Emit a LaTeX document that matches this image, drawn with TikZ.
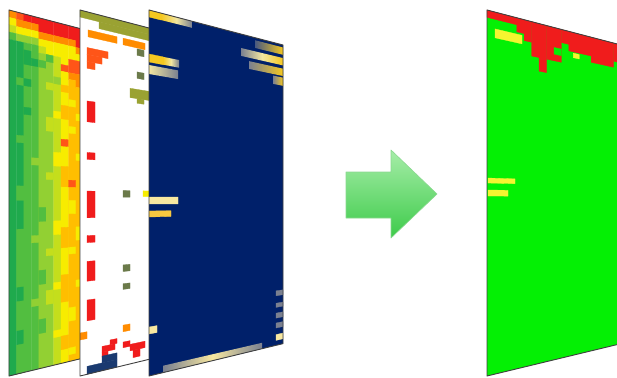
\documentclass[tikz,border=0pt]{standalone}
\definecolor{DG}{HTML}{1FAA4D}
\definecolor{MG}{HTML}{52BE40}
\definecolor{LG}{HTML}{92D033}
\definecolor{YG}{HTML}{C4DE1C}
\definecolor{YE}{HTML}{F7EC00}
\definecolor{OG}{HTML}{FFBE00}
\definecolor{OR}{HTML}{FF8C00}
\definecolor{RO}{HTML}{FF5518}
\definecolor{RD}{HTML}{F01C1C}
\definecolor{OL}{HTML}{9AA232}
\definecolor{DO}{HTML}{6B7A4A}
\definecolor{NV}{HTML}{00206A}
\definecolor{NAVB}{HTML}{1A3A70}
\definecolor{PGR}{HTML}{04F004}
\definecolor{PYE}{HTML}{F5F530}
\definecolor{BARA}{HTML}{F5C820}
\definecolor{BARB}{HTML}{F8C840}
\definecolor{PALE}{HTML}{F2E6A0}
\definecolor{PALEB}{HTML}{F8E8A0}
\definecolor{GRB}{HTML}{7A8090}
\definecolor{ARA}{HTML}{A6EDA8}
\definecolor{ARB}{HTML}{3DCB4A}
\definecolor{ARC}{HTML}{8AD890}
\tikzset{
  pline/.style={draw=black!75, line width=0.9pt, line join=round},
  cellfill/.style={fill=#1, draw=#1, line width=0.3pt}
}
% bilinear map of a panel: a = px from left edge, b = px down the left edge
\newcommand\pmap[2]{({\pX+(#1)},{10+(#1)*0.2612+(#2)*(1-(#1)*0.001366)})}
\newcommand\pcell[5]{\path[cellfill=#5] \pmap{#1}{#2} -- \pmap{#3}{#2} -- \pmap{#3}{#4} -- \pmap{#1}{#4} -- cycle;}
\newcommand\gcell[5]{\pcell{(#1)*7.444}{(#2)*7.32}{(#3)*7.444}{(#4)*7.32}{#5}}
\newcommand\pshade[5]{\shade[#5] \pmap{#1}{#2} -- \pmap{#3}{#2} -- \pmap{#3}{#4} -- \pmap{#1}{#4} -- cycle;}
\newcommand\pframe[1]{\path[#1] \pmap{0}{0} -- \pmap{134}{0} -- \pmap{134}{366} -- \pmap{0}{366} -- cycle;}
\begin{document}
\begin{tikzpicture}[x=1pt,y=-1pt]
\useasboundingbox (0,0) rectangle (617,377);
% ---------------- panel 1 : heat map ----------------
\def\pX{9}
\gcell{0}{0}{1}{1}{OR}\gcell{0}{1}{1}{2}{YE}\gcell{0}{2}{1}{3}{YG}\gcell{0}{3}{1}{4}{MG}\gcell{0}{4}{1}{50}{DG}
\gcell{1}{0}{2}{1}{RO}\gcell{1}{1}{2}{2}{OR}\gcell{1}{2}{2}{3}{YE}\gcell{1}{3}{2}{4}{LG}\gcell{1}{4}{2}{50}{DG}
\gcell{1}{9}{2}{10}{MG}\gcell{1}{17}{2}{18}{MG}\gcell{1}{24}{2}{26}{MG}\gcell{1}{30}{2}{38}{MG}\gcell{1}{40}{2}{44}{MG}\gcell{1}{46}{2}{50}{MG}
\gcell{2}{0}{3}{1}{RD}\gcell{2}{1}{3}{2}{OR}\gcell{2}{2}{3}{3}{YE}\gcell{2}{3}{3}{4}{LG}\gcell{2}{4}{3}{50}{MG}
\gcell{2}{5}{3}{7}{DG}\gcell{2}{9}{3}{10}{DG}\gcell{2}{13}{3}{14}{DG}
\gcell{3}{0}{4}{1}{RD}\gcell{3}{1}{4}{2}{OR}\gcell{3}{2}{4}{3}{YE}\gcell{3}{3}{4}{4}{LG}\gcell{3}{4}{4}{50}{MG}
\gcell{3}{6}{4}{7}{DG}\gcell{3}{20}{4}{21}{LG}\gcell{3}{31}{4}{32}{LG}\gcell{3}{40}{4}{41}{LG}
\gcell{4}{0}{5}{2}{RD}\gcell{4}{2}{5}{3}{OR}\gcell{4}{3}{5}{4}{YE}\gcell{4}{4}{5}{5}{YG}\gcell{4}{5}{5}{50}{LG}
\gcell{4}{6}{5}{7}{MG}\gcell{4}{27}{5}{29}{MG}\gcell{4}{36}{5}{38}{MG}\gcell{4}{43}{5}{45}{MG}
\gcell{5}{0}{6}{2}{RD}\gcell{5}{2}{6}{3}{OR}\gcell{5}{3}{6}{5}{YE}\gcell{5}{5}{6}{50}{LG}
\gcell{5}{5}{6}{6}{MG}\gcell{5}{9}{6}{10}{YG}\gcell{5}{14}{6}{16}{YG}\gcell{5}{22}{6}{23}{YG}\gcell{5}{33}{6}{34}{YG}\gcell{5}{39}{6}{41}{YG}
\gcell{6}{0}{7}{2}{RD}\gcell{6}{2}{7}{3}{OR}\gcell{6}{3}{7}{5}{YE}\gcell{6}{5}{7}{50}{YG}
\gcell{6}{8}{7}{9}{LG}\gcell{6}{13}{7}{14}{YE}\gcell{6}{19}{7}{21}{YE}\gcell{6}{29}{7}{31}{YE}\gcell{6}{38}{7}{39}{YE}\gcell{6}{45}{7}{46}{YE}
\gcell{7}{0}{8}{2}{RD}\gcell{7}{2}{8}{3}{OR}\gcell{7}{3}{8}{6}{YE}\gcell{7}{6}{8}{7}{RO}\gcell{7}{7}{8}{50}{YE}
\gcell{7}{9}{8}{10}{OG}\gcell{7}{12}{8}{14}{OG}\gcell{7}{17}{8}{18}{RO}\gcell{7}{21}{8}{24}{OG}\gcell{7}{30}{8}{33}{OG}\gcell{7}{37}{8}{41}{OG}\gcell{7}{46}{8}{48}{OG}
\gcell{8}{0}{9}{2}{RD}\gcell{8}{2}{9}{3}{OR}\gcell{8}{3}{9}{5}{YE}\gcell{8}{5}{9}{7}{RO}\gcell{8}{7}{9}{8}{OR}\gcell{8}{8}{9}{50}{OG}
\gcell{8}{11}{9}{12}{YE}\gcell{8}{15}{9}{16}{YE}\gcell{8}{23}{9}{24}{RO}\gcell{8}{26}{9}{28}{YE}\gcell{8}{33}{9}{34}{YE}\gcell{8}{42}{9}{44}{YE}\gcell{8}{48}{9}{49}{YE}
\gcell{9}{0}{10}{3}{RD}\gcell{9}{3}{10}{4}{OR}\gcell{9}{4}{10}{5}{YE}\gcell{9}{5}{10}{7}{RO}\gcell{9}{7}{10}{9}{OR}\gcell{9}{9}{10}{50}{OG}
\gcell{9}{13}{10}{14}{YE}\gcell{9}{19}{10}{20}{YE}\gcell{9}{30}{10}{32}{YE}\gcell{9}{38}{10}{39}{YE}
\pframe{pline}
% ---------------- panel 2 : white ----------------
\def\pX{80}
\pframe{fill=white}
\pcell{0}{0}{69}{7}{OL}\pcell{19}{7}{69}{14}{OL}
\pcell{8}{18}{37}{25}{OR}\pcell{43}{18}{65}{25}{OR}
\pcell{57}{26}{64}{33}{DO}\pcell{57}{51}{64}{58}{DO}
\pcell{50}{70}{69}{80}{OL}\pcell{57}{80}{64}{85}{OL}
\pcell{7}{36}{28}{43}{RO}\pcell{7}{43}{22}{50}{RO}\pcell{7}{50}{15}{57}{RO}
\pcell{7}{90}{15}{111}{RD}\pcell{7}{142}{15}{149}{RD}\pcell{7}{181}{15}{208}{RD}
\pcell{7}{226}{15}{233}{RD}\pcell{7}{252}{15}{272}{RD}\pcell{7}{291}{15}{312}{RD}
\pcell{43}{180}{50}{187}{DO}\pcell{43}{259}{50}{266}{DO}\pcell{43}{279}{50}{285}{DO}
\pcell{63}{180}{69}{186}{YE}
\pcell{43}{323}{50}{330}{OR}\pcell{0}{323}{7}{330}{OR}
\pcell{30}{336}{37}{341}{RD}\pcell{22}{341}{35}{347}{RD}\pcell{22}{347}{28}{352}{RD}
\pcell{43}{341}{50}{347}{RD}\pcell{50}{345}{65}{352}{RD}\pcell{53}{352}{60}{360}{RD}
\pcell{22}{351}{37}{358}{NAVB}\pcell{7}{358}{37}{366}{NAVB}
\pframe{pline}
% ---------------- panel 3 : navy ----------------
\def\pX{149}
\pframe{fill=NV}
\pcell{0}{0}{12}{7}{BARA}
\pshade{12}{0}{43}{7}{left color=BARA, right color=GRB, middle color=PALE}
\pcell{0}{44}{14}{52}{BARA}
\pshade{14}{44}{30}{52}{left color=BARA, right color=GRB, middle color=PALE}
\pshade{0}{55}{29}{64}{left color=PALE, right color=GRB}
\pshade{106}{3}{134}{12}{left color=GRB!60!NV, right color=BARA}
\pshade{92}{16}{134}{25}{left color=GRB, right color=BARA, middle color=PALE}
\pshade{100}{29}{134}{38}{left color=GRB, right color=BARA}
\pshade{124}{40}{134}{50}{left color=GRB, right color=BARA}
\pcell{0}{187}{29}{194}{PALEB}\pcell{0}{201}{22}{207}{BARB}
\pcell{0}{317}{8}{324}{PALEB}
\pcell{127}{300}{134}{306}{GRB}\pcell{127}{315}{134}{320}{GRB}
\pcell{127}{327}{134}{333}{GRB}\pcell{127}{339}{134}{345}{GRB}
\pcell{127}{353}{134}{360}{PALEB}
\pshade{14}{359}{113}{366}{left color=GRB, right color=GRB, middle color=PALEB}
\pframe{pline}
% ---------------- arrow ----------------
\shade[top color=ARA, bottom color=ARB, draw=ARC, line width=0.6pt, line join=round]
  (346,172) -- (391,172) -- (391,150) -- (437,194) -- (391,238) -- (391,218) -- (346,218) -- cycle;
% ---------------- result panel ----------------
\def\pX{487}
\pframe{fill=PGR}
\gcell{0}{0}{4}{1}{RD}\gcell{4}{0}{5}{2}{RD}\gcell{5}{0}{6}{3}{RD}\gcell{6}{0}{7}{5}{RD}
\gcell{7}{0}{8}{7}{RD}\gcell{8}{0}{9}{5}{RD}\gcell{9}{0}{10}{5}{RD}\gcell{9}{3}{10}{4}{PGR}
\gcell{10}{0}{11}{2}{RD}\gcell{11}{0}{14}{3}{RD}\gcell{14}{0}{17}{4}{RD}\gcell{17}{0}{18}{3}{RD}
\pcell{8}{17}{35}{26}{PYE}
\gcell{11.6}{3.2}{12.4}{3.9}{PYE}
\pcell{1}{168}{28}{173}{PYE}\pcell{1}{180}{21}{186}{PYE}
\pframe{pline}
\end{tikzpicture}
\end{document}
